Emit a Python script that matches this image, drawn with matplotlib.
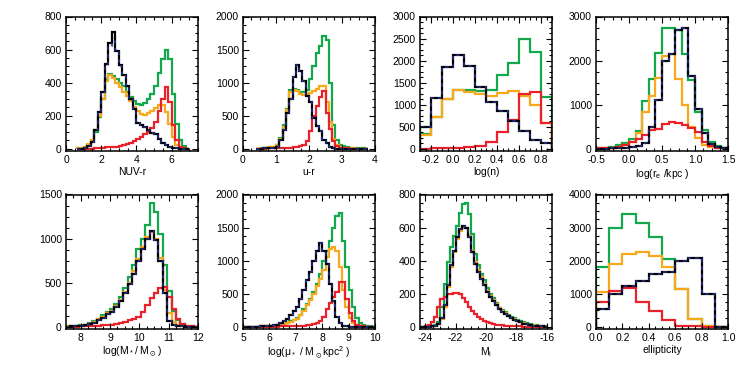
import numpy as np
import matplotlib
matplotlib.use('Agg')
import matplotlib.pyplot as plt
from matplotlib.ticker import MultipleLocator, AutoMinorLocator, FormatStrFormatter

plt.rcParams['font.family'] = ['Liberation Sans', 'DejaVu Sans']
plt.rcParams['mathtext.fontset'] = 'custom'
plt.rcParams['mathtext.rm'] = 'Liberation Sans'
plt.rcParams['mathtext.default'] = 'regular'
plt.rcParams['axes.unicode_minus'] = False

# ---- NUV-r (bins of 0.2 from 0.6) ----
nuv_edges = np.arange(0.6, 7.01, 0.2)
nuv_black = [0, 0, 5, 15, 40, 110, 220, 340, 515, 640, 705, 590, 505, 445, 380, 300,
             237, 155, 140, 130, 110, 95, 85, 55, 35, 20, 12, 6, 2, 0, 0, 0]
nuv_navy = [0, 0, 5, 15, 40, 110, 220, 340, 500, 620, 650, 600, 500, 440, 375, 300,
            235, 160, 140, 130, 110, 95, 85, 55, 35, 20, 12, 6, 2, 0, 0, 0]
nuv_green = [0, 0, 5, 20, 45, 100, 190, 300, 420, 450, 440, 420, 400, 380, 345, 310,
             285, 270, 265, 275, 300, 330, 380, 460, 540, 595, 540, 330, 150, 50, 15, 0]
nuv_orange = [5, 5, 10, 25, 50, 110, 200, 300, 410, 445, 430, 400, 370, 340, 320, 290,
              250, 225, 210, 205, 215, 230, 245, 265, 265, 220, 150, 70, 20, 5, 0, 0]
nuv_red = [0, 0, 0, 0, 0, 2, 3, 5, 7, 8, 10, 12, 18, 22, 28, 35,
           45, 55, 70, 85, 100, 125, 160, 230, 300, 375, 280, 140, 50, 12, 4, 0]

# ---- u-r (bins of 0.1 from 0.4) ----
ur_edges = np.arange(0.4, 3.81, 0.1)
ur_black = [0, 0, 2, 4, 8, 15, 25, 130, 280, 540, 750, 1080, 1260, 1180, 1030, 800, 700,
            460, 335, 260, 130, 80, 25, 5, 0, 0, 0, 0, 0, 0, 0, 0, 0, 0]
ur_green = [0, 5, 8, 12, 20, 30, 60, 160, 350, 600, 880, 900, 890, 850, 860, 880, 1050,
            1250, 1450, 1550, 1700, 1650, 1000, 350, 130, 60, 40, 25, 15, 10, 8, 5, 3, 0]
ur_orange = [0, 5, 8, 12, 20, 30, 55, 150, 330, 580, 860, 880, 870, 830, 810, 820, 840,
             870, 900, 940, 950, 700, 400, 150, 50, 20, 10, 5, 3, 2, 0, 0, 0, 0]
ur_red = [0, 0, 0, 2, 3, 4, 5, 6, 8, 10, 15, 20, 30, 40, 60, 110, 260,
          490, 640, 780, 870, 540, 300, 120, 40, 15, 6, 3, 0, 0, 0, 0, 0, 0]

# ---- log(n) (bins of 0.1 from -0.3) ----
n_edges = np.arange(-0.3, 0.91, 0.1)
n_black = [480, 1150, 1850, 2130, 1870, 1400, 1050, 850, 620, 400, 200, 120]
n_green = [330, 720, 1130, 1340, 1320, 1300, 1320, 1680, 1950, 2500, 2200, 1180]
n_orange = [300, 720, 1120, 1330, 1290, 1240, 1200, 1260, 1300, 1200, 1000, 580]
n_red = [0, 5, 10, 15, 30, 60, 150, 370, 650, 1250, 1280, 580]

# ---- log(re/kpc) (bins of 0.1 from -0.5) ----
re_edges = np.arange(-0.5, 1.51, 0.1)
re_black = [0, 0, 5, 10, 15, 30, 60, 120, 480, 1100, 2000, 2150, 2700, 2750, 1650, 900,
            350, 100, 30, 10]
re_green = [10, 20, 40, 70, 130, 220, 400, 1070, 1580, 2180, 2750, 2750, 2700, 2150, 1550,
            830, 420, 150, 60, 20]
re_orange = [5, 10, 20, 40, 70, 150, 350, 830, 1200, 1600, 2100, 2150, 1580, 1000, 500,
             230, 90, 30, 10, 5]
re_red = [5, 10, 20, 40, 80, 150, 225, 315, 410, 450, 560, 600, 580, 540, 460, 380,
          150, 60, 20, 5]

# ---- log(M*/Msun) (bins of 0.15 from 7.5) ----
ms_edges = np.arange(7.5, 12.01, 0.15)
ms_black = [0, 2, 4, 8, 15, 25, 45, 70, 100, 140, 170, 220, 290, 380, 480, 600, 750, 880,
            1000, 1090, 980, 750, 380, 60, 15, 5, 2, 0, 0, 0]
ms_green = [2, 4, 8, 12, 20, 35, 60, 90, 130, 170, 200, 260, 330, 440, 560, 700, 880, 1000,
            1150, 1400, 1300, 1050, 700, 400, 180, 70, 25, 8, 3, 0]
ms_orange = [2, 3, 6, 10, 18, 30, 50, 80, 110, 150, 180, 230, 300, 390, 500, 630, 770, 900,
             1020, 1070, 1000, 780, 420, 150, 50, 15, 5, 2, 0, 0]
ms_red = [0, 0, 0, 2, 3, 5, 8, 10, 12, 15, 20, 25, 35, 50, 70, 90, 110, 160,
          250, 320, 380, 440, 450, 330, 200, 90, 30, 10, 3, 0]

# ---- log(mu*) (bins of 0.125 from 5) ----
mu_edges = np.arange(5.0, 10.001, 0.125)
mu_black = [0, 0, 0, 0, 0, 2, 4, 6, 10, 18, 30, 50, 80, 120, 180, 230, 300, 420, 560, 700,
            830, 1000, 1150, 1270, 1150, 950, 640, 380, 150, 50, 15, 5, 0, 0, 0, 0, 0, 0, 0, 0]
mu_green = [0, 0, 0, 0, 0, 2, 3, 5, 8, 12, 20, 30, 40, 60, 80, 100, 130, 180, 260, 340,
            420, 520, 650, 800, 1000, 1150, 1300, 1500, 1680, 1720, 1300, 900, 550, 300, 130,
            60, 25, 10, 4, 0]
mu_orange = [0, 0, 0, 0, 0, 2, 3, 5, 8, 12, 20, 30, 40, 55, 75, 95, 120, 170, 240, 320,
             400, 500, 620, 720, 850, 1050, 1180, 1200, 1150, 900, 550, 300, 130, 50, 15,
             5, 0, 0, 0, 0]
mu_red = [0, 0, 0, 0, 0, 0, 0, 0, 0, 0, 0, 2, 3, 4, 5, 6, 8, 10, 15, 20,
          25, 35, 50, 80, 150, 260, 360, 440, 530, 680, 670, 420, 200, 80, 30, 10, 4, 0, 0, 0]

# ---- M_i (bins of 0.2 from -24.4) ----
mi_edges = np.arange(-24.4, -15.99, 0.2)
mi_black = [0, 0, 0, 0, 2, 5, 15, 50, 130, 250, 370, 460, 540, 590, 610, 600, 540, 450,
            380, 330, 290, 250, 210, 180, 155, 130, 105, 90, 75, 62, 50, 42, 33, 25, 18,
            13, 9, 6, 4, 2, 1, 0]
mi_green = [0, 0, 0, 2, 4, 10, 30, 120, 260, 390, 480, 550, 610, 690, 740, 750, 680, 560,
            440, 370, 320, 280, 235, 200, 170, 140, 115, 100, 85, 72, 60, 50, 40, 32, 25,
            20, 16, 12, 8, 5, 3, 1]
mi_orange = [0, 0, 0, 0, 2, 5, 15, 45, 120, 240, 360, 450, 530, 580, 600, 600, 550, 460,
             390, 340, 300, 260, 215, 185, 160, 135, 110, 95, 80, 66, 54, 45, 36, 28, 20,
             15, 10, 7, 5, 3, 1, 0]
mi_red = [0, 0, 3, 10, 25, 60, 120, 165, 180, 195, 200, 205, 205, 195, 175, 150, 120, 95,
          75, 55, 45, 35, 28, 20, 15, 12, 9, 7, 5, 4, 3, 2, 1, 1, 0, 0, 0, 0, 0, 0, 0, 0]

# ---- ellipticity (bins of 0.1) ----
ell_edges = np.arange(0.0, 1.01, 0.1)
ell_black = [540, 990, 1220, 1380, 1580, 1650, 1980, 2080, 990, 0]
ell_green = [1800, 3000, 3420, 3150, 2700, 2050, 1150, 230, 20, 0]
ell_orange = [1050, 1880, 2200, 2260, 2150, 1800, 1150, 230, 20, 0]
ell_red = [730, 1090, 1180, 730, 470, 210, 20, 10, 0, 0]

panels = [
    # edges, black, navy, green, orange, red, xlim, xmajor, xfmt, ymax, ymajor, xlabel
    (nuv_edges, nuv_black, nuv_navy, nuv_green, nuv_orange, nuv_red,
     (0, 7.5), 2, '%d', 800, 200, 'NUV-r'),
    (ur_edges, ur_black, ur_black, ur_green, ur_orange, ur_red,
     (0, 4), 1, '%d', 2000, 500, 'u-r'),
    (n_edges, n_black, n_black, n_green, n_orange, n_red,
     (-0.3, 0.9), 0.2, '%.1f', 3000, 500, 'log(n)'),
    (re_edges, re_black, re_black, re_green, re_orange, re_red,
     (-0.5, 1.5), 0.5, '%.1f', 3000, 1000, 'log(r$_e$ /kpc )'),
    (ms_edges, ms_black, ms_black, ms_green, ms_orange, ms_red,
     (7.5, 12), 1, '%d', 1500, 500, r'log(M$_*$/ M$_\odot$)'),
    (mu_edges, mu_black, mu_black, mu_green, mu_orange, mu_red,
     (5, 10), 1, '%d', 2000, 500, r'log($\mu_*$ / M$_\odot$kpc$^2$ )'),
    (mi_edges, mi_black, mi_black, mi_green, mi_orange, mi_red,
     (-24.35, -15.65), 2, '%d', 800, 200, 'M$_i$'),
    (ell_edges, ell_black, ell_black, ell_green, ell_orange, ell_red,
     (0, 1), 0.2, '%.1f', 4000, 1000, 'ellipticity'),
]

W, H = 747, 371
fig = plt.figure(figsize=(W / 100, H / 100), dpi=100)

lefts = [66, 243, 420, 596]
tops = [16.5, 194.5]
pw, ph = 132, 134

for i, (edges, blk, nav, grn, org, red, xlim, xmaj, xfmt, ymax, ymaj, xlab) in enumerate(panels):
    r, c = divmod(i, 4)
    ax = fig.add_axes([lefts[c] / W, 1 - (tops[r] + ph) / H, pw / W, ph / H])

    ax.stairs(grn, edges, color='#13a84c', lw=1.6)
    ax.stairs(org, edges, color='#f7a81b', lw=1.6)
    ax.stairs(red, edges, color='#e8212b', lw=1.6)
    ax.stairs(blk, edges, color='black', lw=1.6)
    ax.stairs(nav, edges, color='#27308a', lw=1.1, ls=(0, (2.5, 2.5)))

    ax.set_xlim(*xlim)
    ax.set_ylim(-0.015 * ymax, ymax)
    ax.xaxis.set_major_locator(MultipleLocator(xmaj))
    ax.xaxis.set_major_formatter(FormatStrFormatter(xfmt))
    ax.yaxis.set_major_locator(MultipleLocator(ymaj))
    ax.xaxis.set_minor_locator(AutoMinorLocator(4))
    ax.yaxis.set_minor_locator(AutoMinorLocator(4))
    ax.tick_params(which='both', direction='in', top=True, right=True,
                   labelsize=7.5, width=0.8, pad=3)
    ax.tick_params(which='major', length=4)
    ax.tick_params(which='minor', length=2)
    for s in ax.spines.values():
        s.set_linewidth(1.1)
    ax.set_xlabel(xlab, fontsize=7.5, labelpad=1.5)

fig.savefig('out.png', dpi=100)
